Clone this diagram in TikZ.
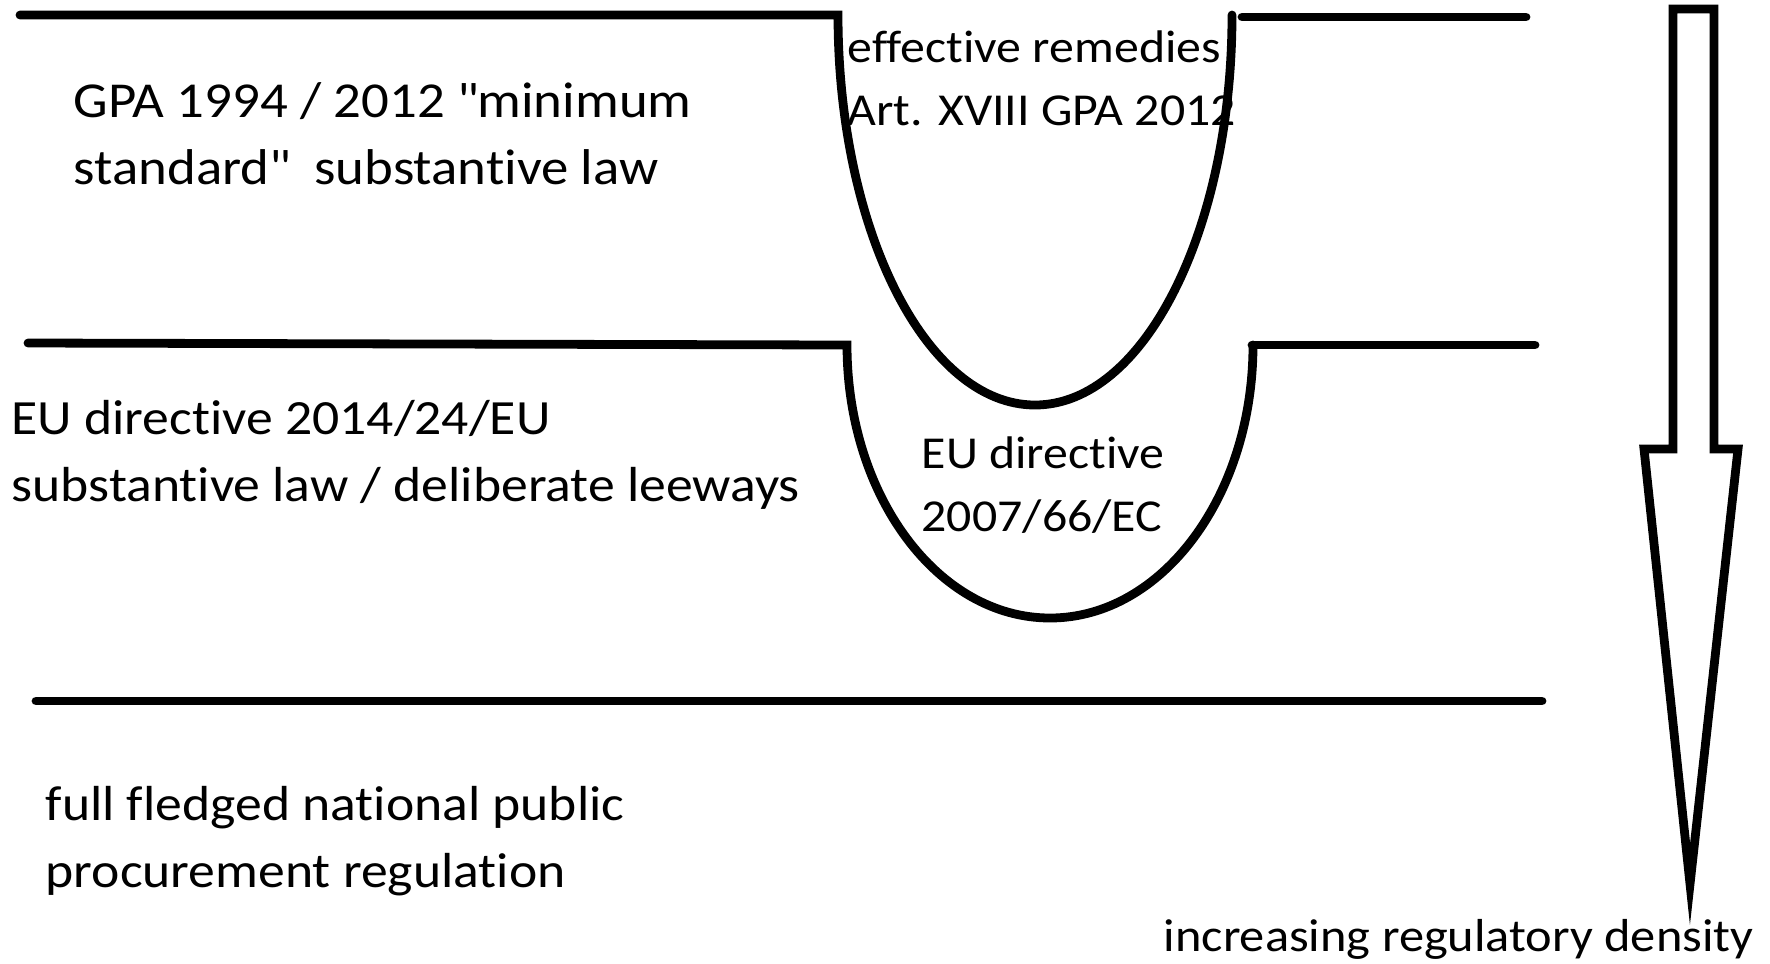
\documentclass[tikz,border=0pt]{standalone}
\usepackage{fontspec}
\setmainfont{Carlito}[Ligatures=NoCommon, FakeStretch=1.09]
\usepackage{tikz}
\usetikzlibrary{positioning}

\tikzset{
    layer/.style={line width=2.5pt, line cap=round},
    label/.style={font=\fontsize{14pt}{19pt}\selectfont, align=left, anchor=west, inner sep=0pt},
    pocket/.style={label, font=\fontsize{13pt}{18pt}\selectfont}
}

\begin{document}
\begin{tikzpicture}[x=0.01cm, y=-0.01cm]
        \useasboundingbox (0,0) rectangle (1770,963);

        % GPA level with remedies pocket
        \draw[layer] (20,15) -- (838,15) arc[start angle=180, end angle=360, x radius=197, y radius=-390];
        \draw[layer] (1242,17) -- (1526,17);
        \node[label, font=\fontsize{14.3pt}{19pt}\selectfont] (gpa) at (73,134) {GPA 1994 / 2012 \textquotedbl minimum\\standard\textquotedbl\ \ substantive law};
        \node[pocket] (remedies) at (847,78) {effective remedies\\Art. XVIII GPA 2012};

        % EU level with directive pocket
        \draw[layer] (28,343) -- (847,345) arc[start angle=180, end angle=360, x radius=203, y radius=-273];
        \draw[layer] (1252,345) -- (1535,345);
        \node[label] (eudir) at (11,455) {EU directive 2014/24/EU\\substantive law / deliberate leeways};
        \node[pocket] (remdir) at (921,485) {EU directive\\2007/66/EC};

        % national level
        \draw[layer] (36,701) -- (1542,701);
        \node[label] (national) at (45,841) {full fledged national public\\procurement regulation};

        % density arrow
        \draw[line width=2.5pt] (1673,9) -- (1714,9) -- (1714,449) -- (1738,449) -- (1690,884)
            -- (1644,449) -- (1673,449) -- cycle;
        \node[label, font=\fontsize{13.15pt}{19pt}\selectfont] (density) at (1163,939) {increasing regulatory density};
    \end{tikzpicture}
\end{document}
